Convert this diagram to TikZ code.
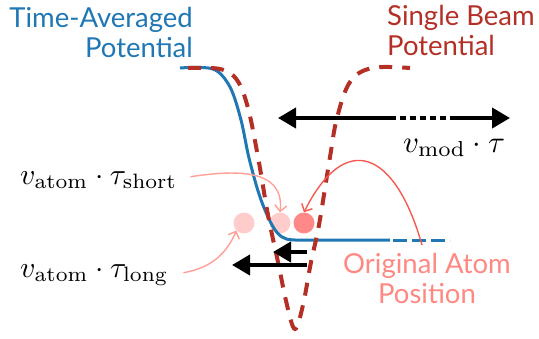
\documentclass[tikz,border=0pt]{standalone}
\usepackage{fontspec}
\usepackage{graphicx}
\usetikzlibrary{arrows.meta}
\newfontfamily\labfont{Lato}
\definecolor{tblue}{RGB}{31,119,180}
\definecolor{bred}{RGB}{180,48,38}
\definecolor{lpink}{RGB}{255,204,204}
\definecolor{salmon}{RGB}{255,136,136}
\definecolor{parrow}{RGB}{255,160,150}
\definecolor{rarrow}{RGB}{245,90,80}
\definecolor{otext}{RGB}{255,136,130}
\tikzset{
  lab/.style={inner sep=0pt, font=\labfont\fontsize{27.5}{30}\selectfont},
  mlab/.style={inner sep=0pt, font=\fontsize{10}{12}\selectfont},
  atom/.style={circle, inner sep=0pt, minimum size=21pt},
  bigarrow/.style={line width=4pt, -{Triangle[length=18pt,width=20pt]}},
  thinarrow/.style={line width=1.4pt, -{Straight Barb[length=6pt,width=12pt]}},
}
\begin{document}
\begin{tikzpicture}[x=1pt,y=-1pt]
\useasboundingbox (0,0) rectangle (539,338);
% labels
\node[lab, text=tblue, align=right, anchor=north east] (tav) at (193,7) {Time-Averaged\\Potential};
\node[lab, text=bred, align=left, anchor=north west] (sbp) at (387,5) {Single Beam\\Potential};
\node[lab, text=otext, align=center, anchor=north] (oap) at (427,253) {Original Atom\\Position};
\node[mlab, anchor=base west] (lshort) at (20,184) {\resizebox{157pt}{!}{$v_{\mathrm{atom}}\cdot\tau_{\mathrm{short}}$}};
\node[mlab, anchor=base west] (llong) at (20,277) {\resizebox{148pt}{!}{$v_{\mathrm{atom}}\cdot\tau_{\mathrm{long}}$}};
\node[mlab, anchor=base west] (lmod) at (403,152) {\resizebox{102pt}{!}{$v_{\mathrm{mod}}\cdot\tau$}};
% atoms
\node[atom, fill=lpink] (a1) at (244,223) {};
\node[atom, fill=lpink] (a2) at (280,223) {};
\node[atom, fill=salmon] (a3) at (304,223) {};
% time-averaged potential
\draw[tblue, line width=3pt] plot[smooth, tension=0.55] coordinates {(180,68) (213,69) (230,87) (241,120) (249,158) (260,197) (272,225) (282,237) (295,240) (330,240)} -- (390,240);
\draw[tblue, line width=3pt, dash pattern=on 14pt off 5pt] (393,240) -- (450,240);
% single beam potential
\draw[bred, line width=4pt, dash pattern=on 13pt off 10pt] plot[smooth, tension=0.6] coordinates {(188,68) (220,69) (237,80) (248,108) (258,157) (268,215) (278,262) (287,305) (295,329) (303,305) (311,262) (319,225) (330,157) (337,118) (350,82) (372,68) (410,68)};
% modulation arrow
\coordinate (mL) at (278,118);
\coordinate (m1) at (390,118);
\coordinate (m2) at (452,118);
\coordinate (mR) at (510,118);
\draw[line width=4pt, {Triangle[length=18pt,width=20pt]}-] (mL) -- (m1);
\draw[line width=4pt, dash pattern=on 6pt off 4pt] (m1) -- (m2);
\draw[bigarrow] (m2) -- (mR);
% displacement arrows
\coordinate (s1) at (307,252);
\coordinate (t1) at (273,252);
\coordinate (s2) at (307,265);
\coordinate (t2) at (232,265);
\draw[bigarrow] (s1) -- (t1);
\draw[bigarrow] (s2) -- (t2);
% pointer arrows
\draw[thinarrow, parrow] (lshort.east) ++(13,-3) .. controls (235,170) and (285,168) .. (a2.north);
\draw[thinarrow, parrow] (llong.east) ++(15,-2) .. controls (210,268) and (226,255) .. (a1.south west);
\draw[thinarrow, rarrow] (oap.north) ++(-5,-8) .. controls (395,150) and (345,130) .. (a3.north);
\end{tikzpicture}
\end{document}
